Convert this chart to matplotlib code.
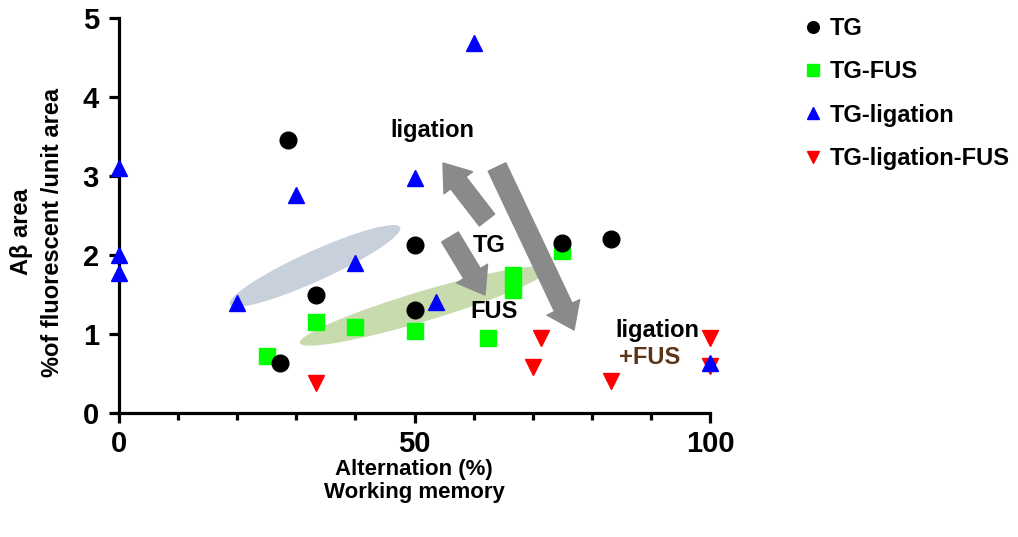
import matplotlib.pyplot as plt
from matplotlib.patches import Ellipse, FancyArrowPatch
from matplotlib.ticker import MultipleLocator

plt.rcParams['font.family'] = ['Liberation Sans', 'DejaVu Sans']
plt.rcParams['font.weight'] = 'bold'

# Alternation (%) vs Abeta area
tg_x = [28.6, 33.3, 50, 50, 27.3, 75, 83.3]
tg_y = [3.45, 1.50, 2.13, 1.30, 0.63, 2.15, 2.20]

fus_x = [25, 33.3, 40, 50, 62.5, 66.7, 66.7, 75]
fus_y = [0.72, 1.15, 1.09, 1.04, 0.95, 1.75, 1.56, 2.05]

lig_x = [0, 0, 0, 20, 30, 40, 50, 60, 53.6, 100]
lig_y = [3.10, 2.00, 1.77, 1.39, 2.76, 1.90, 2.98, 4.68, 1.41, 0.63]

ligfus_x = [33.3, 71.4, 70, 83.3, 100, 100]
ligfus_y = [0.38, 0.95, 0.58, 0.40, 0.95, 0.60]

W, H = 1018, 537
fig = plt.figure(figsize=(W / 100, H / 100), dpi=100)
ax = fig.add_axes([119 / W, (H - 413) / H, (710 - 119) / W, (413 - 18) / H])


def inch(px, py):
    return (px / 100, (H - py) / 100)


# shaded groups
e1 = Ellipse(inch(315, 266), 1.87, 0.30, angle=24.4, transform=fig.dpi_scale_trans,
             facecolor='#c8d0dc', edgecolor='none', zorder=1)
e2 = Ellipse(inch(424, 306), 2.59, 0.30, angle=16.6, transform=fig.dpi_scale_trans,
             facecolor='#c8dbad', edgecolor='none', zorder=1)
ax.add_patch(e1)
ax.add_patch(e2)

ax.plot(tg_x, tg_y, 'o', color='black', markersize=12, label='TG', zorder=5, clip_on=False)
ax.plot(fus_x, fus_y, 's', color='#00ff00', markersize=12, label='TG-FUS', zorder=3, clip_on=False)
ax.plot(lig_x, lig_y, '^', color='#0000ff', markersize=12, label='TG-ligation', zorder=6, clip_on=False)
ax.plot(ligfus_x, ligfus_y, 'v', color='#ff0000', markersize=12, label='TG-ligation-FUS', zorder=4,
        clip_on=False)

ax.set_xlim(0, 100)
ax.set_ylim(0, 5)
ax.xaxis.set_major_locator(MultipleLocator(50))
ax.xaxis.set_minor_locator(MultipleLocator(10))
ax.yaxis.set_major_locator(MultipleLocator(1))
for s in ['top', 'right']:
    ax.spines[s].set_visible(False)
for s in ['left', 'bottom']:
    ax.spines[s].set_linewidth(2.3)
ax.tick_params(which='major', length=7.5, width=2.3, labelsize=21)
ax.tick_params(which='minor', length=5, width=2.3)
ax.tick_params(axis='x', pad=5)
ax.tick_params(axis='y', pad=7)
for lab in ax.get_xticklabels() + ax.get_yticklabels():
    lab.set_fontweight('bold')

fig.text(414 / W, (H - 481) / H, 'Alternation (%)\nWorking memory', ha='center', va='center',
         fontsize=16, fontweight='bold', linespacing=1.15)
fig.text(37 / W, (H - 232) / H, 'A\u03b2 area\n%of fluorescent /unit area', ha='center', va='center',
         rotation=90, fontsize=17, fontweight='bold', linespacing=1.4, multialignment='center')

# arrows
arrows = [((487, 220), (443, 163)), ((497, 167), (574, 330)), ((450, 237), (485, 295))]
for a, b in arrows:
    p = FancyArrowPatch(inch(*a), inch(*b), transform=fig.dpi_scale_trans,
                        arrowstyle='simple,head_length=18,head_width=26,tail_width=14',
                        mutation_scale=1, shrinkA=0, shrinkB=0, color='#8a8a8a', zorder=7)
    fig.add_artist(p)

fig.text(432 / W, (H - 131) / H, 'ligation', ha='center', va='center', fontsize=17, fontweight='bold')
fig.text(489 / W, (H - 245) / H, 'TG', ha='center', va='center', fontsize=17, fontweight='bold')
fig.text(494 / W, (H - 311) / H, 'FUS', ha='center', va='center', fontsize=17, fontweight='bold')
fig.text(657 / W, (H - 330) / H, 'ligation', ha='center', va='center', fontsize=17, fontweight='bold')
fig.text(650 / W, (H - 358) / H, '+FUS', ha='center', va='center', fontsize=17, fontweight='bold',
         color='#5e3418')

leg = ax.legend(loc='upper left', bbox_to_anchor=(796 / W, 1 - 10 / H), bbox_transform=fig.transFigure,
                frameon=False, fontsize=17, handlelength=0.8, handletextpad=0.35, labelspacing=0.86,
                markerscale=0.7, borderaxespad=0, borderpad=0.3)
for t in leg.get_texts():
    t.set_fontweight('bold')

fig.savefig('out.png', dpi=100)
